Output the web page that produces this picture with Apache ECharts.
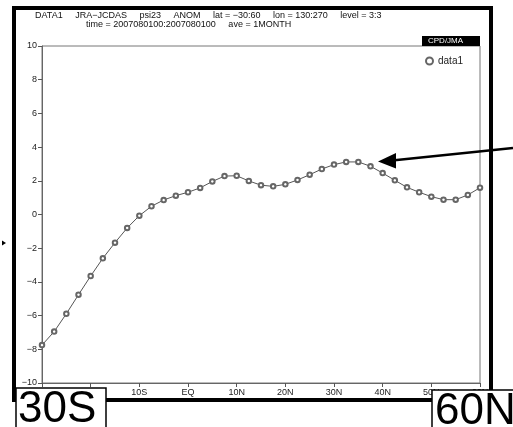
<!DOCTYPE html>
<html>
<head>
<meta charset="utf-8">
<script src="https://cdn.jsdelivr.net/npm/echarts@6/dist/echarts.min.js"></script>
<style>
  html, body { margin: 0; padding: 0; background: #fff; }
  #chart { width: 513px; height: 427px; }
</style>
</head>
<body>
<div id="chart"></div>
<script>
// latitude of each sample (negative = south)
const lats = [-30, -27.5, -25, -22.5, -20, -17.5, -15, -12.5, -10, -7.5, -5, -2.5,
              0, 2.5, 5, 7.5, 10, 12.5, 15, 17.5, 20, 22.5, 25, 27.5, 30, 32.5,
              35, 37.5, 40, 42.5, 45, 47.5, 50, 52.5, 55, 57.5, 60];
const data1 = [-7.75, -6.95, -5.89, -4.76, -3.65, -2.6, -1.67, -0.8, -0.07, 0.49, 0.86, 1.12,
               1.32, 1.58, 1.96, 2.28, 2.3, 1.99, 1.74, 1.67, 1.79, 2.05, 2.36, 2.7, 2.96, 3.12,
               3.12, 2.86, 2.46, 2.03, 1.61, 1.32, 1.06, 0.88, 0.88, 1.16, 1.59];
const titleLine1 = 'DATA1     JRA\u2212JCDAS     psi23     ANOM     lat = \u221230:60     lon = 130:270     level = 3:3';
const titleLine2 = 'time = 2007080100:2007080100     ave = 1MONTH';

const FONT = 'Liberation Sans, Arial, sans-serif';

function latLabel(v) {
    if (v === 0) return 'EQ';
    return v < 0 ? (-v) + 'S' : v + 'N';
}

const chart = echarts.init(document.getElementById('chart'), null, { renderer: 'canvas' });

chart.setOption({
    animation: false,
    backgroundColor: '#fff',
    grid: {
        left: 42, right: 33, top: 46, bottom: 44,
        show: true, borderColor: '#777', borderWidth: 1,
        outerBoundsMode: 'none'
    },
    legend: {
        data: ['data1'],
        left: 420, top: 51,
        icon: 'emptyCircle',
        itemWidth: 7, itemHeight: 7, itemGap: 6,
        itemStyle: { borderWidth: 1 },
        textStyle: { fontFamily: FONT, fontSize: 10, color: '#222' }
    },
    xAxis: {
        type: 'value',
        min: -30, max: 60, interval: 10,
        axisLine: { onZero: false, lineStyle: { color: '#666', width: 1 } },
        axisTick: { show: true, length: 4, lineStyle: { color: '#555' } },
        splitLine: { show: false },
        axisLabel: {
            formatter: latLabel, margin: 5,
            fontFamily: FONT, fontSize: 9, color: '#222'
        }
    },
    yAxis: {
        type: 'value',
        min: -10, max: 10, interval: 2,
        axisLine: { show: true, onZero: false, lineStyle: { color: '#666', width: 1 } },
        axisTick: { show: true, length: 4, lineStyle: { color: '#555' } },
        splitLine: { show: false },
        axisLabel: {
            margin: 5, fontFamily: FONT, fontSize: 9, color: '#222',
            formatter: v => String(v).replace('-', '\u2212')
        }
    },
    series: [{
        name: 'data1',
        type: 'line',
        data: lats.map((lat, i) => [lat, data1[i]]),
        symbol: 'emptyCircle',
        symbolSize: 4.5,
        lineStyle: { color: '#555', width: 1 },
        itemStyle: { color: '#666', borderColor: '#666', borderWidth: 1 },
        z: 3
    }],
    graphic: [
        // outer thick frame
        { type: 'rect', z: 50, shape: { x: 14, y: 8, width: 477, height: 392 },
          style: { fill: null, stroke: '#000', lineWidth: 4 } },
        // title
        { type: 'text', z: 60, left: 35, top: 11,
          style: { text: titleLine1, font: '9px ' + FONT, fill: '#111' } },
        { type: 'text', z: 60, left: 86, top: 20,
          style: { text: titleLine2, font: '9px ' + FONT, fill: '#111' } },
        // CPD/JMA tag
        { type: 'rect', z: 60, shape: { x: 422, y: 36, width: 58, height: 10 },
          style: { fill: '#000' } },
        { type: 'text', z: 61, left: 428, top: 37,
          style: { text: 'CPD/JMA', font: '8px ' + FONT, fill: '#fff' } },
        // annotation arrow
        { type: 'line', z: 60, shape: { x1: 513, y1: 148, x2: 392, y2: 160.5 },
          style: { stroke: '#000', lineWidth: 2.5 } },
        { type: 'polygon', z: 60, shape: { points: [[378, 161.5], [396, 153], [396, 168.5]] },
          style: { fill: '#000' } },
        { type: 'polygon', z: 60, shape: { points: [[6, 243], [2, 240.5], [2, 245.5]] },
          style: { fill: '#000' } },
        // boxed end labels
        { type: 'rect', z: 70, shape: { x: 16, y: 388, width: 90, height: 50 },
          style: { fill: '#fff', stroke: '#000', lineWidth: 1.5 } },
        { type: 'text', z: 71, left: 18, top: 388,
          style: { text: '30S', font: '44px ' + FONT, fill: '#000' } },
        { type: 'rect', z: 70, shape: { x: 432, y: 390, width: 90, height: 50 },
          style: { fill: '#fff', stroke: '#000', lineWidth: 1.5 } },
        { type: 'text', z: 71, left: 435, top: 390,
          style: { text: '60N', font: '44px ' + FONT, fill: '#000' } }
    ]
});
</script>
</body>
</html>
